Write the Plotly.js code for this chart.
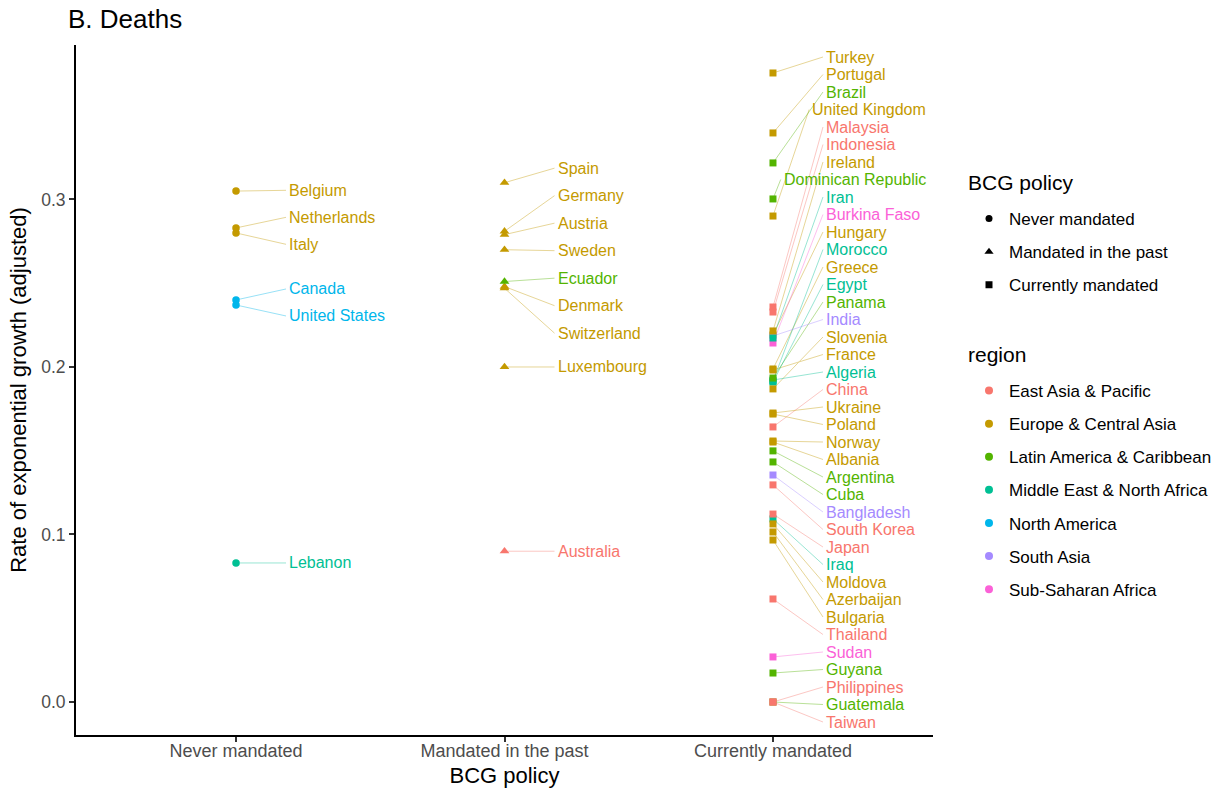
<!DOCTYPE html>
<html><head><meta charset="utf-8">
<script src="https://cdn.plot.ly/plotly-3.0.1.min.js"></script>
<style>html,body{margin:0;padding:0;background:#fff}#chart{width:1216px;height:788px}</style>
</head><body><div id="chart"></div>
<script>
// ---------- data ----------
const policies = ["Never mandated", "Mandated in the past", "Currently mandated"];
const regions = ["East Asia & Pacific", "Europe & Central Asia", "Latin America & Caribbean",
  "Middle East & North Africa", "North America", "South Asia", "Sub-Saharan Africa"];
const regionColors = ["#F8766D", "#C49A00", "#53B400", "#00C094", "#00B6EB", "#A58AFF", "#FB61D7"];

const neverCountries = ["Belgium", "Netherlands", "Italy", "Canada", "United States", "Lebanon"];
const neverRegions = ["Europe & Central Asia", "Europe & Central Asia", "Europe & Central Asia",
  "North America", "North America", "Middle East & North Africa"];
const neverValues = [0.305, 0.283, 0.280, 0.240, 0.237, 0.083];

const pastCountries = ["Spain", "Germany", "Austria", "Sweden", "Ecuador", "Denmark", "Switzerland", "Luxembourg", "Australia"];
const pastRegions = ["Europe & Central Asia", "Europe & Central Asia", "Europe & Central Asia", "Europe & Central Asia",
  "Latin America & Caribbean", "Europe & Central Asia", "Europe & Central Asia", "Europe & Central Asia", "East Asia & Pacific"];
const pastValues = [0.310, 0.281, 0.279, 0.270, 0.251, 0.248, 0.247, 0.200, 0.090];

const currentCountries = ["Turkey", "Portugal", "Brazil", "United Kingdom", "Malaysia", "Indonesia", "Ireland",
  "Dominican Republic", "Iran", "Burkina Faso", "Hungary", "Morocco", "Greece", "Egypt", "Panama", "India",
  "Slovenia", "France", "Algeria", "China", "Ukraine", "Poland", "Norway", "Albania", "Argentina", "Cuba",
  "Bangladesh", "South Korea", "Japan", "Iraq", "Moldova", "Azerbaijan", "Bulgaria", "Thailand", "Sudan",
  "Guyana", "Philippines", "Guatemala", "Taiwan"];
const currentRegions = ["Europe & Central Asia", "Europe & Central Asia", "Latin America & Caribbean", "Europe & Central Asia",
  "East Asia & Pacific", "East Asia & Pacific", "Europe & Central Asia", "Latin America & Caribbean",
  "Middle East & North Africa", "Sub-Saharan Africa", "Europe & Central Asia", "Middle East & North Africa",
  "Europe & Central Asia", "Middle East & North Africa", "Latin America & Caribbean", "South Asia",
  "Europe & Central Asia", "Europe & Central Asia", "Middle East & North Africa", "East Asia & Pacific",
  "Europe & Central Asia", "Europe & Central Asia", "Europe & Central Asia", "Europe & Central Asia",
  "Latin America & Caribbean", "Latin America & Caribbean", "South Asia", "East Asia & Pacific",
  "East Asia & Pacific", "Middle East & North Africa", "Europe & Central Asia", "Europe & Central Asia",
  "Europe & Central Asia", "East Asia & Pacific", "Sub-Saharan Africa", "Latin America & Caribbean",
  "East Asia & Pacific", "Latin America & Caribbean", "East Asia & Pacific"];
const currentValues = [0.3755, 0.3397, 0.3218, 0.2901, 0.2358, 0.2328, 0.2215,
  0.3003, 0.2173, 0.2143, 0.2191, 0.1916, 0.1988, 0.1910, 0.1934, 0.2185,
  0.1869, 0.1982, 0.1922, 0.1642, 0.1725, 0.1719, 0.1558, 0.1552, 0.1499, 0.1433,
  0.1355, 0.1296, 0.1122, 0.1093, 0.1063, 0.1015, 0.0967, 0.0615, 0.0269,
  0.0173, 0.0000, 0.0000, 0.0000];

const policySymbols = ["circle", "triangle-up", "square"];
const legendTitles = ["BCG policy", "region"];

// ---------- geometry ----------
const W = 1216, H = 788;
const margin = {l: 76, r: 283, t: 45, b: 53, pad: 0};
const plotW = W - margin.l - margin.r;
const plotH = H - margin.t - margin.b;
const xRange = [-0.596, 2.596];
const yRange = [-0.0197, 0.3922];
const xPerPx = (xRange[1] - xRange[0]) / plotW;
const yPerPx = (yRange[1] - yRange[0]) / plotH;
const FONT = "'Liberation Sans', Arial, Helvetica, sans-serif";

function colorOf(r) { return regionColors[regions.indexOf(r)]; }

// label repel: ordered, min gap, least-squares (PAVA) within panel bounds
function placeLabels(vals, gapPx, lo, hi) {
  const ypx = vals.map(v => (yRange[1] - v) / yPerPx);
  const w = ypx.map((y, i) => y - i * gapPx);
  const blocks = [];
  w.forEach(val => {
    blocks.push({sum: val, n: 1});
    while (blocks.length > 1) {
      const b = blocks[blocks.length - 1], a = blocks[blocks.length - 2];
      if (a.sum / a.n > b.sum / b.n) { a.sum += b.sum; a.n += b.n; blocks.pop(); } else break;
    }
  });
  const out = [];
  blocks.forEach(b => { for (let k = 0; k < b.n; k++) out.push(b.sum / b.n); });
  const n = vals.length;
  const wLo = lo, wHi = hi - (n - 1) * gapPx;
  return out.map((wv, i) => Math.min(Math.max(wv, wLo), Math.max(wHi, wLo)) + i * gapPx);
}

const groups = [
  {names: neverCountries, regs: neverRegions, vals: neverValues, gap: 27, size: 7.5},
  {names: pastCountries, regs: pastRegions, vals: pastValues, gap: 27.5, size: 8.5},
  {names: currentCountries, regs: currentRegions, vals: currentValues, gap: 17.5, size: 7}
];

const ctx = document.createElement('canvas').getContext('2d');
ctx.font = "16px " + FONT;

const annotations = [];
const segs = regions.map(() => ({x: [], y: []}));
const markerTraces = [];

groups.forEach((g, gi) => {
  const ys = placeLabels(g.vals, g.gap, 11, plotH - 13);
  const catPx = (gi - xRange[0]) / xPerPx;
  g.names.forEach((name, i) => {
    const color = colorOf(g.regs[i]);
    const wpx = ctx.measureText(name).width;
    const lxPx = Math.min(catPx + 51, plotW - wpx - 9);
    const lx = xRange[0] + lxPx * xPerPx;
    const ly = yRange[1] - ys[i] * yPerPx;
    annotations.push({x: lx, y: ly, xref: 'x', yref: 'y', text: name, showarrow: false,
      xanchor: 'left', yanchor: 'middle', font: {size: 16, color: color, family: FONT}});
    const s = segs[regions.indexOf(g.regs[i])];
    s.x.push(gi, lx - 1 * xPerPx, null);
    s.y.push(g.vals[i], ly, null);
  });
  const idx = g.names.map((_, i) => i).sort((a, b) => g.names[a].localeCompare(g.names[b]));
  markerTraces.push({
    type: 'scatter', mode: 'markers',
    x: idx.map(() => gi), y: idx.map(i => g.vals[i]),
    text: idx.map(i => g.names[i]), hoverinfo: 'text',
    marker: {symbol: policySymbols[gi], size: g.size, color: idx.map(i => colorOf(g.regs[i])), line: {width: 0}},
    showlegend: false
  });
});

// legend titles as text
annotations.push({x: 966 / W, y: 1 - 183 / H, xref: 'paper', yref: 'paper', text: legendTitles[0], showarrow: false,
  xanchor: 'left', yanchor: 'middle', font: {size: 21, color: '#000', family: FONT}});
annotations.push({x: 966 / W, y: 1 - 354 / H, xref: 'paper', yref: 'paper', text: legendTitles[1], showarrow: false,
  xanchor: 'left', yanchor: 'middle', font: {size: 21, color: '#000', family: FONT}});
// convert those two from container fractions to paper fractions
annotations.slice(-2).forEach(a => {
  const px = a.x * W, py = (1 - a.y) * H;
  a.x = (px - margin.l) / plotW;
  a.y = 1 - (py - margin.t) / plotH;
});

const lineTraces = regions.map((r, ri) => ({
  type: 'scatter', mode: 'lines', x: segs[ri].x, y: segs[ri].y,
  line: {color: regionColors[ri], width: 1}, opacity: 0.4,
  hoverinfo: 'skip', showlegend: false, connectgaps: false
}));

const policyLegend = policies.map((p, pi) => ({
  type: 'scatter', mode: 'markers', x: [null], y: [null], name: p,
  marker: {symbol: policySymbols[pi], size: pi === 1 ? 8 : 7, color: '#000'},
  legend: 'legend', legendgroup: 'p' + pi, showlegend: true, hoverinfo: 'skip'
}));
const regionLegend = regions.map((r, ri) => ({
  type: 'scatter', mode: 'markers', x: [null], y: [null], name: r,
  marker: {symbol: 'circle', size: 8, color: regionColors[ri]},
  legend: 'legend2', legendgroup: 'r' + ri, showlegend: true, hoverinfo: 'skip'
}));

const layout = {
  width: W, height: H, margin: margin,
  paper_bgcolor: '#fff', plot_bgcolor: '#fff',
  font: {family: FONT, color: '#000'},
  title: {text: 'B. Deaths', x: 68 / W, xref: 'container', xanchor: 'left',
    y: 1 - 19 / H, yref: 'container', yanchor: 'middle', font: {size: 26, color: '#000', family: FONT}},
  xaxis: {range: xRange, tickvals: [0, 1, 2], ticktext: policies, showline: true, linecolor: '#000', linewidth: 2,
    ticks: 'outside', ticklen: 5, tickwidth: 1.5, tickcolor: '#333', showgrid: false, zeroline: false,
    tickfont: {size: 18, color: '#4D4D4D'}, fixedrange: true, ticklabelstandoff: -7,
    title: {text: 'BCG policy', font: {size: 22, color: '#000'}, standoff: 8}},
  yaxis: {range: yRange, tickvals: [0, 0.1, 0.2, 0.3], ticktext: ['0.0', '0.1', '0.2', '0.3'],
    showline: true, linecolor: '#000', linewidth: 2, ticks: 'outside', ticklen: 5, tickwidth: 1.5, tickcolor: '#333',
    showgrid: false, zeroline: false, tickfont: {size: 17.5, color: '#4D4D4D'}, fixedrange: true,
    title: {text: 'Rate of exponential growth (adjusted)', font: {size: 22, color: '#000'}, standoff: 8}},
  showlegend: true,
  legend: {xref: 'container', yref: 'container',
    x: 969 / W, y: 1 - 201 / H, xanchor: 'left', yanchor: 'top', font: {size: 17},
    tracegroupgap: 8, bgcolor: 'rgba(0,0,0,0)', itemclick: false, itemdoubleclick: false},
  legend2: {xref: 'container', yref: 'container',
    x: 969 / W, y: 1 - 373 / H, xanchor: 'left', yanchor: 'top', font: {size: 17},
    tracegroupgap: 8, bgcolor: 'rgba(0,0,0,0)', itemclick: false, itemdoubleclick: false},
  annotations: annotations,
  hovermode: 'closest'
};

Plotly.newPlot('chart', [...lineTraces, ...markerTraces, ...policyLegend, ...regionLegend], layout,
  {displayModeBar: false, staticPlot: false});
</script></body></html>
